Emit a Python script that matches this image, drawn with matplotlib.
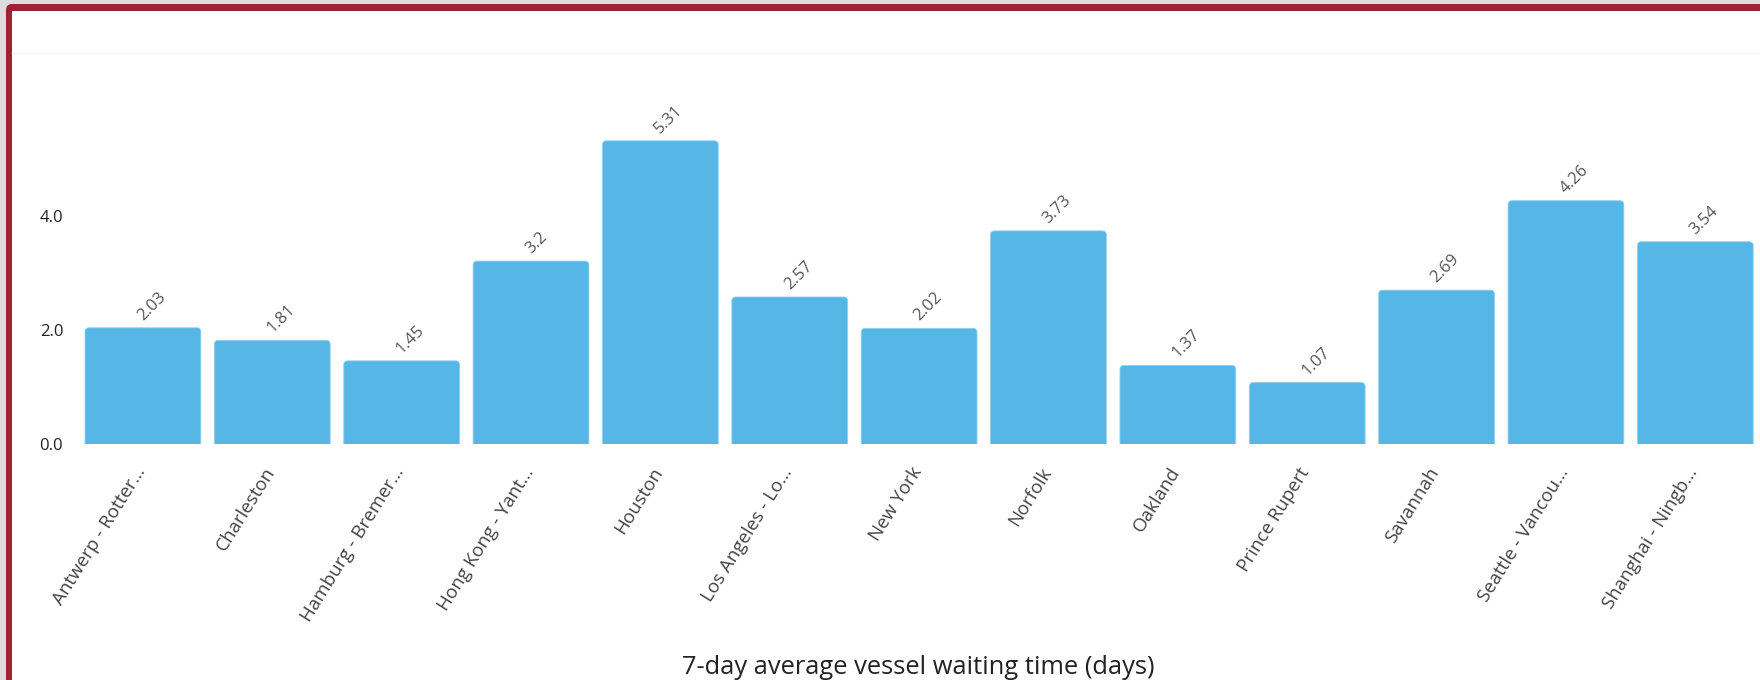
import matplotlib
matplotlib.use("Agg")
import matplotlib.pyplot as plt
from matplotlib.patches import FancyBboxPatch, Rectangle
from matplotlib.transforms import ScaledTranslation

plt.rcParams['font.family'] = ['Open Sans', 'DejaVu Sans']

ports = ["Antwerp - Rotter...", "Charleston", "Hamburg - Bremer...", "Hong Kong - Yant...",
         "Houston", "Los Angeles - Lo...", "New York", "Norfolk", "Oakland",
         "Prince Rupert", "Savannah", "Seattle - Vancou...", "Shanghai - Ningb..."]
wait_days = [2.03, 1.81, 1.45, 3.2, 5.31, 2.57, 2.02, 3.73, 1.37, 1.07, 2.69, 4.26, 3.54]
value_labels = ["2.03", "1.81", "1.45", "3.2", "5.31", "2.57", "2.02", "3.73", "1.37",
                "1.07", "2.69", "4.26", "3.54"]
y_ticks = [0.0, 2.0, 4.0]
y_tick_labels = ["0.0", "2.0", "4.0"]
x_title = "7-day average vessel waiting time (days)"

W, H = 1760, 680
fig = plt.figure(figsize=(W / 100, H / 100), dpi=100)
fig.patch.set_facecolor('#dddddd')

# red frame + white panel (screenshot frame)
fig.patches.append(FancyBboxPatch((6, -40), 1900, 40 + 676, boxstyle="round,pad=0,rounding_size=6",
                                  transform=None, facecolor='#9e2236', edgecolor='none', zorder=0))
fig.patches.append(Rectangle((12, -40), 1900, 40 + 669, transform=None,
                             facecolor='white', edgecolor='none', zorder=1))
fig.lines.append(plt.Line2D([12, W], [H - 53, H - 53], transform=None, color='#f4f4f4', lw=1, zorder=2))

ax_left, ax_right = 75, 1760
ax_bottom_px = 443.5
ppu = 57.0
ymax = 6.0
ax = fig.add_axes([ax_left / W, (H - ax_bottom_px) / H, (ax_right - ax_left) / W, ymax * ppu / H])
ax.set_facecolor('none')
ax.set_zorder(3)

x = list(range(len(ports)))
bar_w = 0.895
bars = ax.bar(x, wait_days, width=bar_w, color='none', edgecolor='none')
# rounded-top bars, derived from bar geometry
sx = (ax_right - ax_left) / (12.5 + 0.525)
for b in bars:
    r = 4.0 / sx
    p = FancyBboxPatch((b.get_x(), -0.3), b.get_width(), b.get_height() + 0.3,
                       boxstyle=f"round,pad=0,rounding_size={r}", mutation_aspect=sx / ppu,
                       facecolor='#56b7e6', edgecolor='#8fd0ef', lw=0.6)
    ax.add_patch(p)

ax.set_xlim(-0.525, 12.5)
ax.set_ylim(0, ymax)
for s in ax.spines.values():
    s.set_visible(False)

ax.set_yticks(y_ticks)
ax.set_yticklabels(y_tick_labels, fontsize=12, color='#222222')
ax.tick_params(axis='y', length=0, pad=8.5)

ax.set_xticks(x)
ax.set_xticklabels(ports, rotation=58, ha='right', va='center_baseline', rotation_mode='anchor',
                   fontsize=13.5, color='#444444')
ax.tick_params(axis='x', length=0, pad=17.5)
off = ScaledTranslation(-3 / 100, 0, fig.dpi_scale_trans)
for lab in ax.get_xticklabels():
    lab.set_transform(lab.get_transform() + off)

for xi, v, t in zip(x, wait_days, value_labels):
    ax.annotate(t, (xi, v), xytext=(0, 5), textcoords='offset points', rotation=45,
                ha='left', va='baseline', rotation_mode='anchor', fontsize=12, color='#555555',
                annotation_clip=False)

fig.text(918 / W, 6 / H, x_title, ha='center', va='baseline', fontsize=18.4, color='#222222')

fig.savefig('out.png', dpi=100, facecolor=fig.get_facecolor())
